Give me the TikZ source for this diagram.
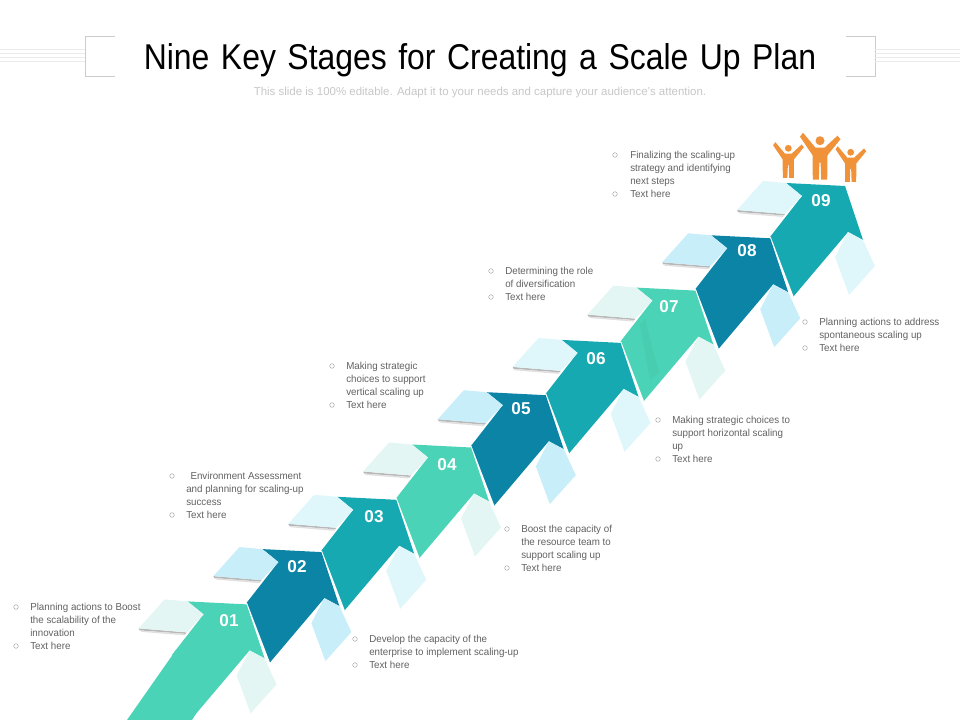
\documentclass[tikz,border=0pt]{standalone}
\usepackage{fontspec}
\setmainfont{Liberation Sans}
\newfontfamily\titlefont[FakeStretch=0.89,WordSpace=1.3]{Liberation Sans}
\usetikzlibrary{calc}
\definecolor{mintbody}{HTML}{4AD3B6}
\definecolor{bluebody}{HTML}{0B84A5}
\definecolor{tealbody}{HTML}{17A9B1}
\definecolor{mintlight}{HTML}{E3F6F3}
\definecolor{bluelight}{HTML}{C8EEF9}
\definecolor{teallight}{HTML}{DFF7FB}
\definecolor{peopleorange}{HTML}{F0923A}
\tikzstyle{stagetext} = [anchor=north west, inner sep=0pt, align=left, text=black!62,
font=\fontsize{7.2}{9.24}\selectfont\addfontfeature{FakeStretch=0.965}]
\tikzstyle{bulletdot} = [circle, draw=black!40, line width=0.3pt, inner sep=0pt, minimum size=0.115cm]
\tikzstyle{stagenum} = [text=white, inner sep=0pt, font=\fontsize{12.2}{14}\selectfont\bfseries]
\tikzstyle{titletext} = [inner sep=0pt, font=\titlefont\fontsize{25.5}{30}\selectfont]
\tikzstyle{subtext} = [inner sep=0pt, text=black!22, font=\fontsize{8.16}{10}\selectfont]
\tikzstyle{framearc} = [draw=black!20, line width=0.5pt]
\tikzstyle{stripe} = [draw=black!8, line width=0.7pt]
\tikzstyle{joinline} = [draw=white, line width=1pt]
\newcommand{\stagearrow}[3]{
  \begin{scope}[shift={(-74.8*#1,52.3*#1)}]
    \fill [#2] (770,237) -- (802,196) -- (786,183) -- (845,186) -- (863,240) -- (848,232) -- (793,297) -- cycle;
    \draw [joinline] (770,237) -- (793,297);
    \fill [black!28] (737,210) -- (785,214) -- (784,215.5) -- (738,212) -- cycle;
    \fill [black!12] (738,212) -- (784,215.5) -- (783,217) -- (740,213.5) -- cycle;
    \fill [#3] (763,181) -- (786,183) -- (802,196) -- (785,214) -- (737,210) -- cycle;
    \fill [#3] (848,232) -- (863,240) -- (875,266) -- (849,295) -- (835,257) -- cycle;
  \end{scope}
}
\newcommand{\stageperson}[3]{
  \begin{scope}[shift={(#1,#2)}, scale=#3]
    \fill [peopleorange] (0,0) circle (4.5);
    \fill [peopleorange] (-20,-4) -- (-17,-8) -- (-4.5,7) -- (4.5,7) -- (17.5,-5) -- (20.5,-1.5) -- (7.5,14.5)
      -- (7.2,39) -- (1.2,39) -- (0.6,22) -- (-0.6,22) -- (-1.2,39) -- (-7.2,39) -- (-7.5,14.5) -- cycle;
  \end{scope}
}
\begin{document}
\begin{tikzpicture}[x=0.025cm, y=-0.025cm]
    \useasboundingbox (0,0) rectangle (960,720);

    % Header
    \draw [framearc] (115,36) -- (85,36) -- (85,76) -- (115,76);
    \draw [framearc] (846,36) -- (875,36) -- (875,76) -- (846,76);
    \draw [stripe] (0,49.5) -- (85,49.5);
    \draw [stripe] (0,53) -- (85,53);
    \draw [stripe] (0,57) -- (85,57);
    \draw [stripe] (0,61) -- (85,61);
    \draw [stripe] (875,49.5) -- (960,49.5);
    \draw [stripe] (875,53) -- (960,53);
    \draw [stripe] (875,57) -- (960,57);
    \draw [stripe] (875,61) -- (960,61);
    \node (title) [titletext] at (480,60.5) {Nine Key Stages for Creating a Scale Up Plan};
    \node (subtitle) [subtext] at (480,92.5) {This slide is 100\% editable. Adapt it to your needs and capture your audience's attention.};

    % Arrows, top one first
    \stagearrow{0}{tealbody}{teallight}
    \stagearrow{1}{bluebody}{bluelight}
    \stagearrow{2}{mintbody}{mintlight}
    \stagearrow{3}{tealbody}{teallight}
    \stagearrow{4}{bluebody}{bluelight}
    \stagearrow{5}{mintbody}{mintlight}
    \stagearrow{6}{tealbody}{teallight}
    \stagearrow{7}{bluebody}{bluelight}
    \stagearrow{8}{mintbody}{mintlight}

    % Tail of the first arrow
    \fill [mintbody] (176,650) -- (127,720) -- (192,720) -- (199,709) -- cycle;
    % Darker band on arrow 07
    \fill [mintbody!97!black] (640,324) -- (645,319) -- (659,373) -- (650,380) -- cycle;

    % Numbers
    \node (n01) [stagenum] at (229,621) {01};
    \node (n02) [stagenum] at (297,567) {02};
    \node (n03) [stagenum] at (374,517) {03};
    \node (n04) [stagenum] at (447,465) {04};
    \node (n05) [stagenum] at (521,409) {05};
    \node (n06) [stagenum] at (596,359) {06};
    \node (n07) [stagenum] at (669,307) {07};
    \node (n08) [stagenum] at (747,251) {08};
    \node (n09) [stagenum] at (821,201) {09};

    % People
    \stageperson{788.3}{148.3}{0.76}
    \stageperson{820}{140.7}{1}
    \stageperson{850.7}{152.3}{0.76}

    % Text blocks
    \node (t01) [stagetext] at (30,602.8) {Planning actions to Boost\\the scalability of the\\innovation\\Text here};
    \node (b01a) [bulletdot] at (16,607) {};
    \node (b01b) [bulletdot] at (16,646) {};

    \node (t02) [stagetext] at (369,634.8) {Develop the capacity of the\\enterprise to implement scaling-up\\Text here};
    \node (b02a) [bulletdot] at (355,639) {};
    \node (b02b) [bulletdot] at (355,665) {};

    \node (t03) [stagetext] at (186,471.8) {\hspace{3pt}Environment Assessment\\and planning for scaling-up\\success\\Text here};
    \node (b03a) [bulletdot] at (172,476) {};
    \node (b03b) [bulletdot] at (172,515) {};

    \node (t04) [stagetext] at (346,361.8) {Making strategic\\choices to support\\vertical scaling up\\Text here};
    \node (b04a) [bulletdot] at (332,366) {};
    \node (b04b) [bulletdot] at (332,405) {};

    \node (t05) [stagetext] at (521,524.8) {Boost the capacity of\\the resource team to\\support scaling up\\Text here};
    \node (b05a) [bulletdot] at (507,529) {};
    \node (b05b) [bulletdot] at (507,568) {};

    \node (t06) [stagetext] at (505,266.8) {Determining the role\\of diversification\\Text here};
    \node (b06a) [bulletdot] at (491,271) {};
    \node (b06b) [bulletdot] at (491,297) {};

    \node (t07) [stagetext] at (672,415.8) {Making strategic choices to\\support horizontal scaling\\up\\Text here};
    \node (b07a) [bulletdot] at (658,420) {};
    \node (b07b) [bulletdot] at (658,459) {};

    \node (t08) [stagetext] at (630,150.8) {Finalizing the scaling-up\\strategy and identifying\\next steps\\Text here};
    \node (b08a) [bulletdot] at (615,155) {};
    \node (b08b) [bulletdot] at (615,194) {};

    \node (t09) [stagetext] at (819,317.8) {Planning actions to address\\spontaneous scaling up\\Text here};
    \node (b09a) [bulletdot] at (805,322) {};
    \node (b09b) [bulletdot] at (805,348) {};
\end{tikzpicture}
\end{document}
